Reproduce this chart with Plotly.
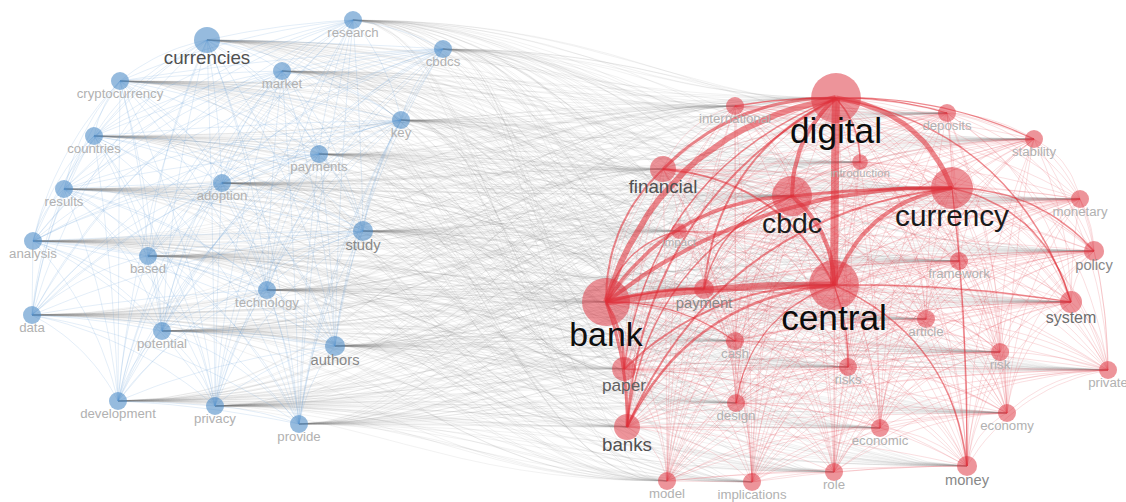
import numpy as np
import plotly.graph_objects as go

# ---- term co-occurrence network: nodes ----
blue_terms = ["research", "currencies", "cbdcs", "cryptocurrency", "market", "key",
              "countries", "payments", "adoption", "results", "study", "analysis",
              "based", "technology", "data", "potential", "authors", "development",
              "privacy", "provide"]
blue_x = [353, 207, 443, 120, 282, 401, 94, 319, 222, 64, 363, 33, 148, 267, 32, 162, 335, 118, 215, 299]
blue_y = [20, 40, 49, 81, 71, 120, 136, 154, 183, 189, 231, 241, 256, 290, 315, 331, 346, 401, 406, 424]
blue_occ = [12, 25, 12, 12, 12, 12, 12, 12, 12, 12, 15, 12, 12, 12, 12, 12, 15, 12, 12, 12]

red_terms = ["digital", "international", "deposits", "stability", "financial", "introduction",
             "cbdc", "currency", "monetary", "impact", "policy", "framework", "bank",
             "payment", "central", "system", "article", "cash", "risk", "risks", "private",
             "paper", "design", "economy", "banks", "economic", "money", "role", "model",
             "implications"]
red_x = [836, 735, 947, 1034, 663, 860, 792, 952, 1080, 679, 1094, 959, 606, 704, 834, 1071,
         926, 735, 1000, 848, 1108, 624, 736, 1007, 627, 880, 967, 834, 667, 752]
red_y = [98, 106, 113, 139, 169, 162, 196, 188, 199, 231, 251, 261, 302, 289, 285, 302,
         319, 341, 352, 367, 370, 369, 403, 413, 427, 428, 466, 472, 481, 482]
red_occ = [92, 12, 12, 12, 25, 9, 59, 65, 12, 9, 15, 12, 85, 15, 92, 18,
           12, 12, 12, 12, 12, 21, 12, 12, 25, 12, 15, 12, 12, 12]

# strongest links between terms (link strength)
strong_links = [
    ("digital", "central", 80), ("bank", "central", 70), ("digital", "bank", 60),
    ("digital", "currency", 50), ("digital", "cbdc", 40), ("cbdc", "central", 40),
    ("bank", "currency", 40), ("central", "currency", 40), ("bank", "cbdc", 35),
    ("cbdc", "currency", 30), ("digital", "financial", 30), ("bank", "banks", 30),
    ("bank", "paper", 25), ("bank", "payment", 30), ("digital", "payment", 20),
    ("central", "banks", 25), ("digital", "banks", 20), ("central", "paper", 20),
    ("currency", "banks", 20), ("financial", "bank", 20), ("digital", "international", 15),
    ("central", "financial", 20), ("currency", "system", 15), ("central", "system", 15),
    ("digital", "introduction", 15), ("digital", "stability", 12), ("digital", "deposits", 12),
    ("currency", "policy", 15), ("central", "money", 15), ("bank", "impact", 15),
    ("cbdc", "banks", 15), ("cbdc", "payment", 15), ("digital", "paper", 15),
    ("bank", "cash", 12), ("central", "design", 12), ("currency", "money", 12),
    ("central", "risks", 12), ("digital", "system", 15),
]

# ---- geometry helpers ----
pos = {}
occ = {}
for t, x, y, o in zip(blue_terms, blue_x, blue_y, blue_occ):
    pos[t] = np.array([x, y], float); occ[t] = o
for t, x, y, o in zip(red_terms, red_x, red_y, red_occ):
    pos[t] = np.array([x, y], float); occ[t] = o


def radius(o):
    return 2.6 * np.sqrt(o)


T = np.linspace(0, 1, 18)[:, None]


def arc(a, b, k=0.15):
    """Quadratic curve bending above the chord, strongest for diagonal links."""
    p, q = pos[a], pos[b]
    if p[0] > q[0]:
        p, q = q, p
    d = q - p
    ln = np.hypot(*d)
    s2 = 2 * abs(d[0]) * abs(d[1]) / ln ** 2
    perp = np.array([d[1], -d[0]]) / ln
    c = (p + q) / 2 + perp * 2 * k * ln * s2
    pts = (1 - T) ** 2 * p + 2 * (1 - T) * T * c + T ** 2 * q
    return pts[:, 0], pts[:, 1]


def flow(a, b):
    """Cubic curve leaving and entering its ends horizontally."""
    p, q = pos[a], pos[b]
    if p[0] > q[0]:
        p, q = q, p
    c = 0.45 * (q[0] - p[0])
    c1 = p + np.array([c, 0]); c2 = q - np.array([c, 0])
    pts = (1 - T) ** 3 * p + 3 * (1 - T) ** 2 * T * c1 + 3 * (1 - T) * T ** 2 * c2 + T ** 3 * q
    return pts[:, 0], pts[:, 1]


fig = go.Figure()


def add_edge(xs, ys, color, width):
    fig.add_trace(go.Scatter(x=xs, y=ys, mode="lines", line=dict(color=color, width=width),
                             hoverinfo="skip", showlegend=False))


# links between the two clusters
for a in blue_terms:
    for b in red_terms:
        xs, ys = flow(a, b)
        add_edge(xs, ys, "rgba(110,110,110,0.10)", 0.9)

# links inside the blue cluster
for i, a in enumerate(blue_terms):
    for b in blue_terms[i + 1:]:
        xs, ys = arc(a, b, 0.08)
        add_edge(xs, ys, "rgba(100,155,215,0.22)", 0.8)

# links inside the red cluster
for i, a in enumerate(red_terms):
    for b in red_terms[i + 1:]:
        xs, ys = arc(a, b, 0.12)
        add_edge(xs, ys, "rgba(228,70,80,0.22)", 0.8)

# strongest links
for a, b, s in strong_links:
    xs, ys = arc(a, b, 0.15)
    add_edge(xs, ys, "rgba(222,40,50,0.55)", s / 10)

# ---- nodes ----
for terms, col in ((blue_terms, "rgba(72,136,198,0.82)"), (red_terms, "rgba(222,55,66,0.76)")):
    fig.add_trace(go.Scatter(
        x=[pos[t][0] for t in terms], y=[pos[t][1] for t in terms], mode="markers",
        marker=dict(size=[2 * radius(occ[t]) for t in terms], color=col, line=dict(width=0)),
        hoverinfo="skip", showlegend=False))

# ---- labels ----
all_terms = blue_terms + red_terms
r_all = np.array([radius(occ[t]) for t in all_terms])
fsize = 1.38 * r_all + 0.8
offset = r_all + 0.3 * fsize + 1
grey = np.interp(r_all, [9, 10, 11, 13, 20, 25], [178, 138, 110, 80, 30, 12])
fig.add_trace(go.Scatter(
    x=[pos[t][0] for t in all_terms],
    y=[pos[t][1] + o for t, o in zip(all_terms, offset)],
    mode="text", text=all_terms, textposition="middle center",
    textfont=dict(family="Arial, Liberation Sans, sans-serif", size=list(fsize),
                  color=[f"rgb({int(g)},{int(g)},{int(g)})" for g in grey]),
    hoverinfo="skip", showlegend=False))

fig.update_layout(
    width=1126, height=502, margin=dict(l=0, r=0, t=0, b=0),
    paper_bgcolor="white", plot_bgcolor="white", showlegend=False,
    xaxis=dict(visible=False, range=[0, 1126], fixedrange=True),
    yaxis=dict(visible=False, range=[502, 0], fixedrange=True),
)

fig.write_html("out.html")
